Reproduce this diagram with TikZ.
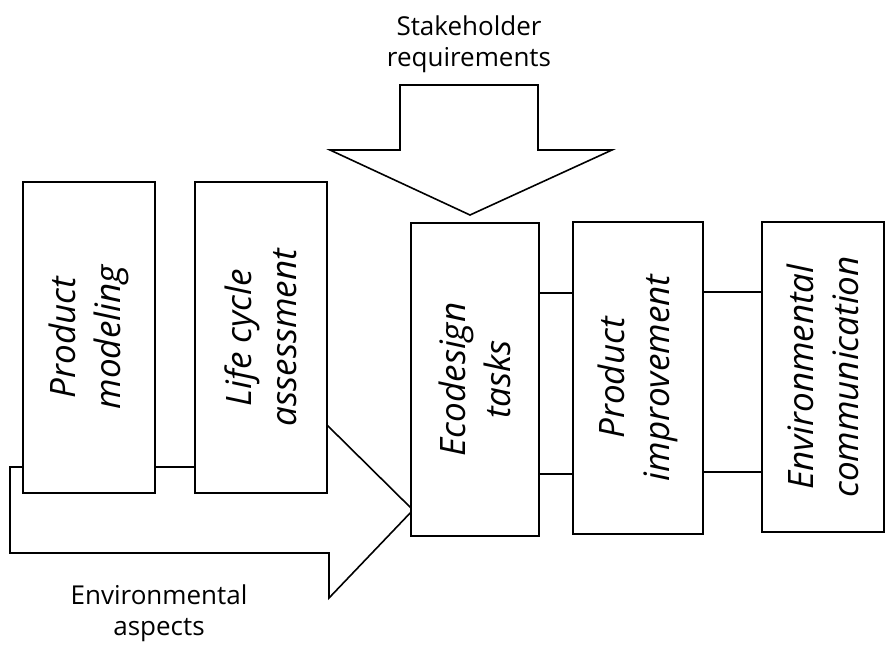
\documentclass[tikz,border=0pt]{standalone}
\usepackage{fontspec}
\setmainfont{Open Sans}
\newfontfamily\handfont{Open Sans}
\tikzset{
  outline/.style={draw=black, line width=1.6pt, fill=white, line join=miter},
  box/.style={draw=black, line width=1.6pt, fill=white, rectangle, inner sep=0pt},
  boxtext/.style={rotate=90, align=center, font=\handfont\itshape\fontsize{35}{45}\selectfont},
  caption/.style={align=center, inner sep=0pt, font=\fontsize{26}{31}\selectfont},
  link/.style={draw=black, line width=1.6pt}
}
\begin{document}
\begin{tikzpicture}[x=1pt,y=-1pt]
\useasboundingbox (0,0) rectangle (886,645);
% Environmental aspects arrow
\draw[outline] (10,467) -- (327,467) -- (327,425) -- (413,510) -- (329,598) -- (329,553) -- (10,553) -- cycle;
% Stakeholder requirements arrow
\draw[outline] (400,85) -- (538,85) -- (538,150) -- (612,150) -- (470,215) -- (330,150) -- (400,150) -- cycle;
% left boxes
\node[box, minimum width=132, minimum height=311] (pm) at (89,337.5) {};
\node[boxtext] at (pm) {Product\\modeling};
\node[box, minimum width=132, minimum height=311] (lca) at (261,337.5) {};
\node[boxtext] at (lca) {Life cycle\\assessment};
% right boxes
\node[box, minimum width=128, minimum height=313] (eco) at (475,379.5) {};
\node[boxtext] at (eco) {Ecodesign\\tasks};
\node[box, minimum width=130, minimum height=312] (pi) at (638,378) {};
\node[boxtext] at (pi) {Product\\improvement};
\node[box, minimum width=122, minimum height=310] (ec) at (823,377) {};
\node[boxtext] at (ec) {Environmental\\communication};
% links
\draw[link] (eco.east |- 0,293) -- (pi.west |- 0,293);
\draw[link] (eco.east |- 0,474) -- (pi.west |- 0,474);
\draw[link] (pi.east |- 0,292) -- (ec.west |- 0,292);
\draw[link] (pi.east |- 0,472) -- (ec.west |- 0,472);
% captions
\node[caption] (sr) at (469,44.5) {Stakeholder\\requirements};
\node[caption] (ea) at (159,613) {Environmental\\aspects};
\end{tikzpicture}
\end{document}
